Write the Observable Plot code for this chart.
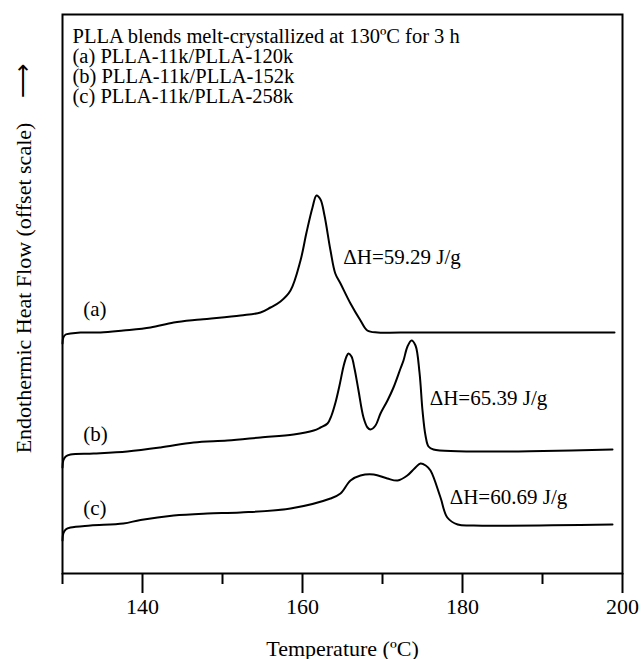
<!DOCTYPE html>
<html><head><meta charset="utf-8">
<script src="https://cdn.jsdelivr.net/npm/d3@7"></script>
<script src="https://cdn.jsdelivr.net/npm/@observablehq/plot@0.6"></script>
<style>body{margin:0;background:#fff} svg{display:block}</style>
</head><body><div id="chart"></div>
<script>
// Curve (a) PLLA-11k/PLLA-120k
const aT = [130.0,130.1,130.4,131.0,132.25,134.75,137.6,141,143.9,147.25,152.25,154.75,156,157.25,158.5,159.75,160.5,161.25,161.75,162.25,162.75,163.5,164.1,164.75,166,167.25,168.1,169.4,172.25,199];
const aV = [23.0,23.6,23.9,24.0,24.1,24.1,24.3,24.6,25.1,25.4,25.8,26.1,26.6,27.2,28.3,31.3,34.1,36.6,37.8,37.4,35.8,32.3,30.0,29.0,27.0,25.3,24.3,24.1,24.1,24.1];
// Curve (b) PLLA-11k/PLLA-152k
const bT = [130,130.1,130.4,131,133.9,138.1,142.25,146.4,150.6,154.75,158.9,161.4,162.25,163.125,163.625,164.125,164.625,165.125,165.5,165.75,166.125,166.5,167.0,167.625,168.125,168.5,169.125,169.75,170.625,171.375,172.25,172.625,173.125,173.625,174.125,174.625,175.0,175.375,175.75,176.375,198.75];
const bV = [10.6,11.3,11.7,11.9,12.0,12.2,12.6,13.1,13.3,13.6,13.9,14.3,14.6,15.0,15.8,17.1,18.8,20.7,21.7,22.0,21.7,20.5,18.3,15.6,14.6,14.4,14.8,16.0,17.3,18.6,20.5,21.3,22.7,23.3,22.8,20.1,16.3,13.8,12.7,12.4,12.4];
// Curve (c) PLLA-11k/PLLA-258k
const cT = [130,130.1,130.4,131,133.5,137.6,139.75,143.9,148.1,152.25,158.5,163.5,164.75,166,167.25,168.9,170.6,171.9,173.1,174,174.75,175.4,176,177.25,178.1,179.4,181.4,198.75];
const cV = [3.3,4.0,4.4,4.6,4.8,5.0,5.35,5.8,6.0,6.1,6.5,7.5,8.0,9.3,9.8,9.9,9.5,9.3,9.8,10.5,11.0,10.8,10.3,7.6,5.6,4.9,4.8,4.9];

const seriesTags = ["(a)", "(b)", "(c)"];
const tagT = [132.6, 132.6, 132.6];
const tagV = [26.4, 13.9, 6.5];
const dHLabels = ["\u0394H=59.29 J/g", "\u0394H=65.39 J/g", "\u0394H=60.69 J/g"];
const dHT = [165.1, 175.9, 178.4];
const dHV = [31.6, 17.5, 7.6];
const legendLines = [
  "PLLA blends melt-crystallized at 130\u00baC for 3 h",
  "(a) PLLA-11k/PLLA-120k",
  "(b) PLLA-11k/PLLA-152k",
  "(c) PLLA-11k/PLLA-258k"
];
const majorTicks = [140, 160, 180, 200];
const minorTicks = [130, 150, 170, 190];
const xLabel = "Temperature (\u00baC)";
const yLabel = "Endothermic Heat Flow (offset scale)";
const yArrow = "\u27F6";

const curves = [[aT, aV], [bT, bV], [cT, cV]];
const curveData = curves.flatMap(([T, V], i) => T.map((t, j) => ({s: seriesTags[i], T: t, v: V[j]})));
const tags = seriesTags.map((s, i) => ({text: s, T: tagT[i], v: tagV[i]}));
const dH = dHLabels.map((s, i) => ({text: s, T: dHT[i], v: dHV[i]}));

const font = "'Liberation Serif','Times New Roman',serif";
const chart = Plot.plot({
  width: 641, height: 659,
  marginLeft: 62, marginRight: 19, marginTop: 14, marginBottom: 86,
  style: {fontFamily: font, color: "#000", background: "#fff", fontSize: "21px"},
  x: {domain: [130, 200]},
  y: {domain: [0, 55.9], axis: null},
  marks: [
    Plot.frame({stroke: "#000", strokeWidth: 2}),
    Plot.axisX({ticks: majorTicks, tickSize: 20, tickPadding: 5, strokeWidth: 2, fontSize: 22, tickFormat: d => String(d),
      label: xLabel, labelAnchor: "center", labelOffset: 82, labelArrow: "none"}),
    Plot.axisX({ticks: minorTicks, tickSize: 11, strokeWidth: 2, tickFormat: () => "", label: null}),
    Plot.line(curveData, {x: "T", y: "v", z: "s", curve: "catmull-rom", stroke: "#000", strokeWidth: 2}),
    Plot.text(tags, {x: "T", y: "v", text: "text", textAnchor: "start", fontSize: 21, fill: "#000"}),
    Plot.text(dH, {x: "T", y: "v", text: "text", textAnchor: "start", fontSize: 21, fill: "#000"}),
    Plot.text([legendLines.join("\n")], {frameAnchor: "top-left", dx: 10, dy: 14.5, lineAnchor: "top", lineHeight: 0.976, textAnchor: "start", fontSize: 20.5, fill: "#000"})
  ]
});
const svg = d3.select(chart);
svg.append("text")
  .attr("transform", "translate(24,288) rotate(-90)")
  .attr("text-anchor", "middle").attr("dy", "0.34em")
  .attr("font-family", font).attr("font-size", 22).attr("fill", "#000")
  .text(yLabel);
svg.append("text")
  .attr("transform", "translate(23,81) rotate(-90)")
  .attr("text-anchor", "middle").attr("dy", "0.34em")
  .attr("font-family", font).attr("font-size", 24).attr("fill", "#000")
  .text(yArrow);
document.getElementById("chart").appendChild(chart);
</script>
</body></html>
